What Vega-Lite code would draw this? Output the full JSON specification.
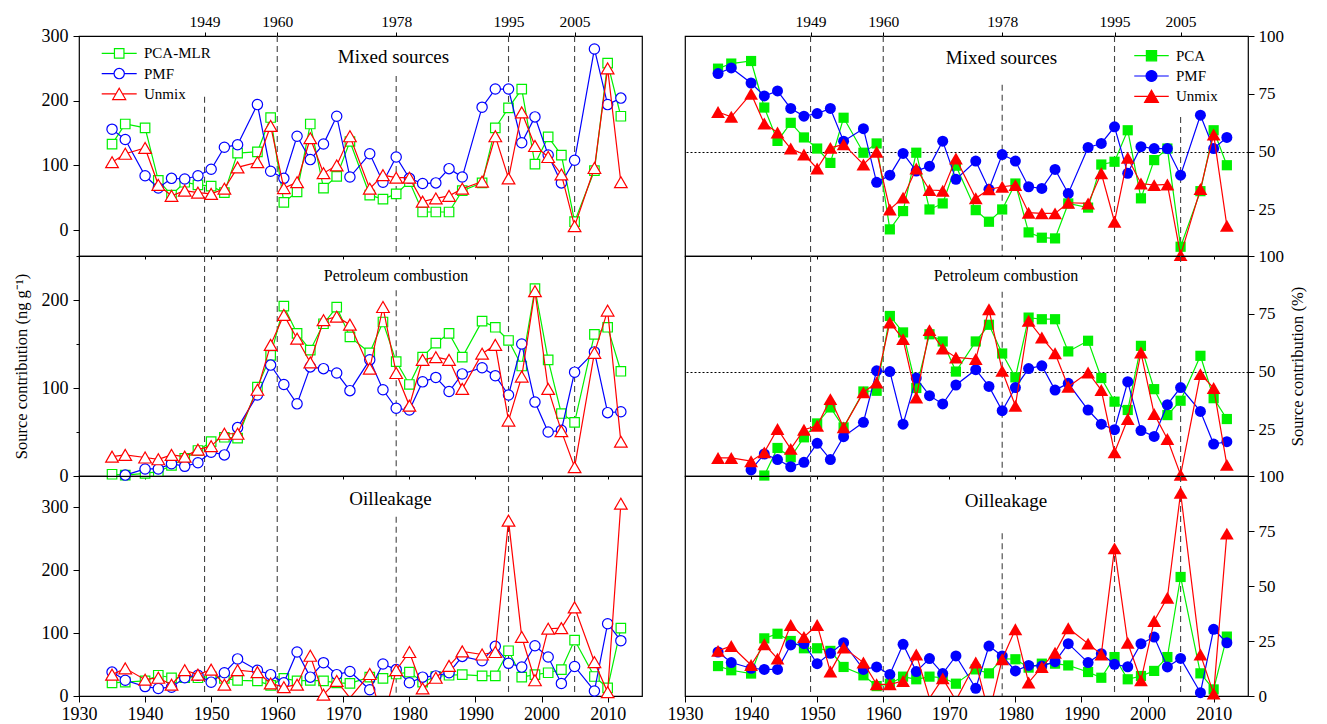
{
  "$schema": "https://vega.github.io/schema/vega-lite/v6.json",
  "background": "white",
  "padding": {"left": 12, "top": 13, "right": 6, "bottom": 4},
  "config": {
    "view": {"stroke": "#000", "strokeWidth": 1.2},
    "font": "Liberation Serif",
    "axis": {"grid": false, "domain": false, "tickColor": "#000", "tickWidth": 1, "labelFont": "Liberation Serif", "labelColor": "#000", "labelFontSize": 18, "labelFlush": false, "labelOverlap": false, "titleFont": "Liberation Serif", "titleFontWeight": "normal", "titleColor": "#000", "titleFontSize": 16.5},
    "legend": {"labelFont": "Liberation Serif", "labelFontSize": 15, "labelColor": "#000", "padding": 0, "rowPadding": 3.3, "symbolStrokeWidth": 1.2, "symbolSize": 100}
  },
  "datasets": {
    "events": [{"year": 1949}, {"year": 1960}, {"year": 1978}, {"year": 1995}, {"year": 2005}],
    "mixed_ng": [
      {"year":1935,"method":"PCA-MLR","value":133},{"year":1937,"method":"PCA-MLR","value":164},{"year":1940,"method":"PCA-MLR","value":158},{"year":1942,"method":"PCA-MLR","value":77},{"year":1944,"method":"PCA-MLR","value":54},{"year":1946,"method":"PCA-MLR","value":74},{"year":1948,"method":"PCA-MLR","value":70},{"year":1950,"method":"PCA-MLR","value":68},{"year":1952,"method":"PCA-MLR","value":58},{"year":1954,"method":"PCA-MLR","value":119},{"year":1957,"method":"PCA-MLR","value":121},{"year":1959,"method":"PCA-MLR","value":174},{"year":1961,"method":"PCA-MLR","value":43},{"year":1963,"method":"PCA-MLR","value":59},{"year":1965,"method":"PCA-MLR","value":164},{"year":1967,"method":"PCA-MLR","value":65},{"year":1969,"method":"PCA-MLR","value":83},{"year":1971,"method":"PCA-MLR","value":137},{"year":1974,"method":"PCA-MLR","value":54},{"year":1976,"method":"PCA-MLR","value":48},{"year":1978,"method":"PCA-MLR","value":56},{"year":1980,"method":"PCA-MLR","value":75},{"year":1982,"method":"PCA-MLR","value":28},{"year":1984,"method":"PCA-MLR","value":28},{"year":1986,"method":"PCA-MLR","value":28},{"year":1988,"method":"PCA-MLR","value":61},{"year":1991,"method":"PCA-MLR","value":73},{"year":1993,"method":"PCA-MLR","value":158},{"year":1995,"method":"PCA-MLR","value":189},{"year":1997,"method":"PCA-MLR","value":218},{"year":1999,"method":"PCA-MLR","value":102},{"year":2001,"method":"PCA-MLR","value":144},{"year":2003,"method":"PCA-MLR","value":116},{"year":2005,"method":"PCA-MLR","value":13},{"year":2008,"method":"PCA-MLR","value":92},{"year":2010,"method":"PCA-MLR","value":258},{"year":2012,"method":"PCA-MLR","value":176},
      {"year":1935,"method":"PMF","value":156},{"year":1937,"method":"PMF","value":140},{"year":1940,"method":"PMF","value":84},{"year":1942,"method":"PMF","value":65},{"year":1944,"method":"PMF","value":80},{"year":1946,"method":"PMF","value":79},{"year":1948,"method":"PMF","value":84},{"year":1950,"method":"PMF","value":94},{"year":1952,"method":"PMF","value":128},{"year":1954,"method":"PMF","value":132},{"year":1957,"method":"PMF","value":194},{"year":1959,"method":"PMF","value":91},{"year":1961,"method":"PMF","value":80},{"year":1963,"method":"PMF","value":145},{"year":1965,"method":"PMF","value":109},{"year":1967,"method":"PMF","value":133},{"year":1969,"method":"PMF","value":176},{"year":1971,"method":"PMF","value":82},{"year":1974,"method":"PMF","value":118},{"year":1976,"method":"PMF","value":74},{"year":1978,"method":"PMF","value":113},{"year":1980,"method":"PMF","value":80},{"year":1982,"method":"PMF","value":72},{"year":1984,"method":"PMF","value":73},{"year":1986,"method":"PMF","value":95},{"year":1988,"method":"PMF","value":82},{"year":1991,"method":"PMF","value":190},{"year":1993,"method":"PMF","value":218},{"year":1995,"method":"PMF","value":218},{"year":1997,"method":"PMF","value":135},{"year":1999,"method":"PMF","value":175},{"year":2001,"method":"PMF","value":116},{"year":2003,"method":"PMF","value":73},{"year":2005,"method":"PMF","value":108},{"year":2008,"method":"PMF","value":280},{"year":2010,"method":"PMF","value":194},{"year":2012,"method":"PMF","value":204},
      {"year":1935,"method":"Unmix","value":105},{"year":1937,"method":"Unmix","value":118},{"year":1940,"method":"Unmix","value":127},{"year":1942,"method":"Unmix","value":70},{"year":1944,"method":"Unmix","value":53},{"year":1946,"method":"Unmix","value":61},{"year":1948,"method":"Unmix","value":58},{"year":1950,"method":"Unmix","value":56},{"year":1952,"method":"Unmix","value":64},{"year":1954,"method":"Unmix","value":97},{"year":1957,"method":"Unmix","value":105},{"year":1959,"method":"Unmix","value":161},{"year":1961,"method":"Unmix","value":65},{"year":1963,"method":"Unmix","value":74},{"year":1965,"method":"Unmix","value":142},{"year":1967,"method":"Unmix","value":88},{"year":1969,"method":"Unmix","value":100},{"year":1971,"method":"Unmix","value":145},{"year":1974,"method":"Unmix","value":64},{"year":1976,"method":"Unmix","value":85},{"year":1978,"method":"Unmix","value":81},{"year":1980,"method":"Unmix","value":81},{"year":1982,"method":"Unmix","value":44},{"year":1984,"method":"Unmix","value":49},{"year":1986,"method":"Unmix","value":53},{"year":1988,"method":"Unmix","value":64},{"year":1991,"method":"Unmix","value":75},{"year":1993,"method":"Unmix","value":145},{"year":1995,"method":"Unmix","value":80},{"year":1997,"method":"Unmix","value":182},{"year":1999,"method":"Unmix","value":130},{"year":2001,"method":"Unmix","value":113},{"year":2003,"method":"Unmix","value":86},{"year":2005,"method":"Unmix","value":6},{"year":2008,"method":"Unmix","value":96},{"year":2010,"method":"Unmix","value":250},{"year":2012,"method":"Unmix","value":74}
    ],
    "petroleum_ng": [
      {"year":1935,"method":"PCA-MLR","value":2},{"year":1937,"method":"PCA-MLR","value":1},{"year":1940,"method":"PCA-MLR","value":3},{"year":1942,"method":"PCA-MLR","value":5},{"year":1944,"method":"PCA-MLR","value":12},{"year":1946,"method":"PCA-MLR","value":20},{"year":1948,"method":"PCA-MLR","value":29},{"year":1950,"method":"PCA-MLR","value":39},{"year":1952,"method":"PCA-MLR","value":44},{"year":1954,"method":"PCA-MLR","value":43},{"year":1957,"method":"PCA-MLR","value":101},{"year":1959,"method":"PCA-MLR","value":137},{"year":1961,"method":"PCA-MLR","value":193},{"year":1963,"method":"PCA-MLR","value":162},{"year":1965,"method":"PCA-MLR","value":143},{"year":1967,"method":"PCA-MLR","value":173},{"year":1969,"method":"PCA-MLR","value":192},{"year":1971,"method":"PCA-MLR","value":158},{"year":1974,"method":"PCA-MLR","value":140},{"year":1976,"method":"PCA-MLR","value":175},{"year":1978,"method":"PCA-MLR","value":130},{"year":1980,"method":"PCA-MLR","value":104},{"year":1982,"method":"PCA-MLR","value":135},{"year":1984,"method":"PCA-MLR","value":151},{"year":1986,"method":"PCA-MLR","value":162},{"year":1988,"method":"PCA-MLR","value":135},{"year":1991,"method":"PCA-MLR","value":176},{"year":1993,"method":"PCA-MLR","value":169},{"year":1995,"method":"PCA-MLR","value":154},{"year":1997,"method":"PCA-MLR","value":125},{"year":1999,"method":"PCA-MLR","value":213},{"year":2001,"method":"PCA-MLR","value":132},{"year":2003,"method":"PCA-MLR","value":71},{"year":2005,"method":"PCA-MLR","value":61},{"year":2008,"method":"PCA-MLR","value":161},{"year":2010,"method":"PCA-MLR","value":169},{"year":2012,"method":"PCA-MLR","value":119},
      {"year":1937,"method":"PMF","value":1},{"year":1940,"method":"PMF","value":8},{"year":1942,"method":"PMF","value":8},{"year":1944,"method":"PMF","value":14},{"year":1946,"method":"PMF","value":11},{"year":1948,"method":"PMF","value":15},{"year":1950,"method":"PMF","value":27},{"year":1952,"method":"PMF","value":24},{"year":1954,"method":"PMF","value":55},{"year":1957,"method":"PMF","value":92},{"year":1959,"method":"PMF","value":126},{"year":1961,"method":"PMF","value":104},{"year":1963,"method":"PMF","value":82},{"year":1965,"method":"PMF","value":124},{"year":1967,"method":"PMF","value":122},{"year":1969,"method":"PMF","value":117},{"year":1971,"method":"PMF","value":97},{"year":1974,"method":"PMF","value":132},{"year":1976,"method":"PMF","value":98},{"year":1978,"method":"PMF","value":77},{"year":1980,"method":"PMF","value":75},{"year":1982,"method":"PMF","value":107},{"year":1984,"method":"PMF","value":112},{"year":1986,"method":"PMF","value":96},{"year":1988,"method":"PMF","value":116},{"year":1991,"method":"PMF","value":123},{"year":1993,"method":"PMF","value":114},{"year":1995,"method":"PMF","value":92},{"year":1997,"method":"PMF","value":150},{"year":1999,"method":"PMF","value":84},{"year":2001,"method":"PMF","value":50},{"year":2003,"method":"PMF","value":52},{"year":2005,"method":"PMF","value":118},{"year":2008,"method":"PMF","value":141},{"year":2010,"method":"PMF","value":72},{"year":2012,"method":"PMF","value":73},
      {"year":1935,"method":"Unmix","value":22},{"year":1937,"method":"Unmix","value":24},{"year":1940,"method":"Unmix","value":21},{"year":1942,"method":"Unmix","value":19},{"year":1944,"method":"Unmix","value":24},{"year":1946,"method":"Unmix","value":22},{"year":1948,"method":"Unmix","value":30},{"year":1950,"method":"Unmix","value":34},{"year":1952,"method":"Unmix","value":48},{"year":1954,"method":"Unmix","value":48},{"year":1957,"method":"Unmix","value":98},{"year":1959,"method":"Unmix","value":149},{"year":1961,"method":"Unmix","value":183},{"year":1963,"method":"Unmix","value":156},{"year":1965,"method":"Unmix","value":129},{"year":1967,"method":"Unmix","value":177},{"year":1969,"method":"Unmix","value":181},{"year":1971,"method":"Unmix","value":172},{"year":1974,"method":"Unmix","value":122},{"year":1976,"method":"Unmix","value":192},{"year":1978,"method":"Unmix","value":117},{"year":1980,"method":"Unmix","value":80},{"year":1982,"method":"Unmix","value":132},{"year":1984,"method":"Unmix","value":135},{"year":1986,"method":"Unmix","value":132},{"year":1988,"method":"Unmix","value":99},{"year":1991,"method":"Unmix","value":139},{"year":1993,"method":"Unmix","value":149},{"year":1995,"method":"Unmix","value":63},{"year":1997,"method":"Unmix","value":113},{"year":1999,"method":"Unmix","value":210},{"year":2001,"method":"Unmix","value":99},{"year":2003,"method":"Unmix","value":51},{"year":2005,"method":"Unmix","value":10},{"year":2008,"method":"Unmix","value":140},{"year":2010,"method":"Unmix","value":188},{"year":2012,"method":"Unmix","value":39}
    ],
    "oil_ng": [
      {"year":1935,"method":"PCA-MLR","value":21},{"year":1937,"method":"PCA-MLR","value":22},{"year":1940,"method":"PCA-MLR","value":24},{"year":1942,"method":"PCA-MLR","value":33},{"year":1944,"method":"PCA-MLR","value":29},{"year":1946,"method":"PCA-MLR","value":29},{"year":1948,"method":"PCA-MLR","value":29},{"year":1950,"method":"PCA-MLR","value":31},{"year":1952,"method":"PCA-MLR","value":28},{"year":1954,"method":"PCA-MLR","value":25},{"year":1957,"method":"PCA-MLR","value":24},{"year":1959,"method":"PCA-MLR","value":17},{"year":1961,"method":"PCA-MLR","value":28},{"year":1963,"method":"PCA-MLR","value":24},{"year":1965,"method":"PCA-MLR","value":25},{"year":1967,"method":"PCA-MLR","value":24},{"year":1969,"method":"PCA-MLR","value":21},{"year":1971,"method":"PCA-MLR","value":20},{"year":1974,"method":"PCA-MLR","value":30},{"year":1976,"method":"PCA-MLR","value":28},{"year":1978,"method":"PCA-MLR","value":35},{"year":1980,"method":"PCA-MLR","value":38},{"year":1982,"method":"PCA-MLR","value":22},{"year":1984,"method":"PCA-MLR","value":31},{"year":1986,"method":"PCA-MLR","value":33},{"year":1988,"method":"PCA-MLR","value":34},{"year":1991,"method":"PCA-MLR","value":32},{"year":1993,"method":"PCA-MLR","value":32},{"year":1995,"method":"PCA-MLR","value":72},{"year":1997,"method":"PCA-MLR","value":30},{"year":1999,"method":"PCA-MLR","value":34},{"year":2001,"method":"PCA-MLR","value":37},{"year":2003,"method":"PCA-MLR","value":42},{"year":2005,"method":"PCA-MLR","value":89},{"year":2008,"method":"PCA-MLR","value":31},{"year":2010,"method":"PCA-MLR","value":13},{"year":2012,"method":"PCA-MLR","value":108},
      {"year":1935,"method":"PMF","value":38},{"year":1937,"method":"PMF","value":25},{"year":1940,"method":"PMF","value":15},{"year":1942,"method":"PMF","value":12},{"year":1944,"method":"PMF","value":14},{"year":1946,"method":"PMF","value":29},{"year":1948,"method":"PMF","value":33},{"year":1950,"method":"PMF","value":22},{"year":1952,"method":"PMF","value":37},{"year":1954,"method":"PMF","value":59},{"year":1957,"method":"PMF","value":41},{"year":1959,"method":"PMF","value":34},{"year":1961,"method":"PMF","value":21},{"year":1963,"method":"PMF","value":70},{"year":1965,"method":"PMF","value":30},{"year":1967,"method":"PMF","value":53},{"year":1969,"method":"PMF","value":34},{"year":1971,"method":"PMF","value":39},{"year":1974,"method":"PMF","value":10},{"year":1976,"method":"PMF","value":51},{"year":1978,"method":"PMF","value":42},{"year":1980,"method":"PMF","value":21},{"year":1982,"method":"PMF","value":30},{"year":1984,"method":"PMF","value":32},{"year":1986,"method":"PMF","value":37},{"year":1988,"method":"PMF","value":63},{"year":1991,"method":"PMF","value":56},{"year":1993,"method":"PMF","value":79},{"year":1995,"method":"PMF","value":52},{"year":1997,"method":"PMF","value":46},{"year":1999,"method":"PMF","value":80},{"year":2001,"method":"PMF","value":62},{"year":2003,"method":"PMF","value":20},{"year":2005,"method":"PMF","value":47},{"year":2008,"method":"PMF","value":8},{"year":2010,"method":"PMF","value":115},{"year":2012,"method":"PMF","value":88},
      {"year":1935,"method":"Unmix","value":34},{"year":1937,"method":"Unmix","value":44},{"year":1940,"method":"Unmix","value":26},{"year":1942,"method":"Unmix","value":29},{"year":1944,"method":"Unmix","value":18},{"year":1946,"method":"Unmix","value":41},{"year":1948,"method":"Unmix","value":34},{"year":1950,"method":"Unmix","value":42},{"year":1952,"method":"Unmix","value":18},{"year":1954,"method":"Unmix","value":41},{"year":1957,"method":"Unmix","value":38},{"year":1959,"method":"Unmix","value":20},{"year":1961,"method":"Unmix","value":14},{"year":1963,"method":"Unmix","value":18},{"year":1965,"method":"Unmix","value":64},{"year":1967,"method":"Unmix","value":2},{"year":1969,"method":"Unmix","value":24},{"year":1971,"method":"Unmix","value":-3},{"year":1974,"method":"Unmix","value":35},{"year":1976,"method":"Unmix","value":-40},{"year":1978,"method":"Unmix","value":41},{"year":1980,"method":"Unmix","value":70},{"year":1982,"method":"Unmix","value":12},{"year":1984,"method":"Unmix","value":29},{"year":1986,"method":"Unmix","value":48},{"year":1988,"method":"Unmix","value":71},{"year":1991,"method":"Unmix","value":66},{"year":1993,"method":"Unmix","value":70},{"year":1995,"method":"Unmix","value":279},{"year":1997,"method":"Unmix","value":94},{"year":1999,"method":"Unmix","value":25},{"year":2001,"method":"Unmix","value":107},{"year":2003,"method":"Unmix","value":108},{"year":2005,"method":"Unmix","value":141},{"year":2008,"method":"Unmix","value":54},{"year":2010,"method":"Unmix","value":6},{"year":2012,"method":"Unmix","value":306}
    ],
    "mixed_pct": [
      {"year":1935,"method":"PCA","value":85.9},{"year":1937,"method":"PCA","value":88.1},{"year":1940,"method":"PCA","value":89.2},{"year":1942,"method":"PCA","value":69.1},{"year":1944,"method":"PCA","value":54.7},{"year":1946,"method":"PCA","value":62.5},{"year":1948,"method":"PCA","value":56.2},{"year":1950,"method":"PCA","value":51.4},{"year":1952,"method":"PCA","value":45.2},{"year":1954,"method":"PCA","value":64.7},{"year":1957,"method":"PCA","value":49.6},{"year":1959,"method":"PCA","value":53.6},{"year":1961,"method":"PCA","value":16.5},{"year":1963,"method":"PCA","value":24.4},{"year":1965,"method":"PCA","value":49.6},{"year":1967,"method":"PCA","value":25.1},{"year":1969,"method":"PCA","value":27.7},{"year":1971,"method":"PCA","value":44},{"year":1974,"method":"PCA","value":24.8},{"year":1976,"method":"PCA","value":19.8},{"year":1978,"method":"PCA","value":25.1},{"year":1980,"method":"PCA","value":36.3},{"year":1982,"method":"PCA","value":15.2},{"year":1984,"method":"PCA","value":12.9},{"year":1986,"method":"PCA","value":12.6},{"year":1988,"method":"PCA","value":27.7},{"year":1991,"method":"PCA","value":25.9},{"year":1993,"method":"PCA","value":44.5},{"year":1995,"method":"PCA","value":45.7},{"year":1997,"method":"PCA","value":59.3},{"year":1999,"method":"PCA","value":29.9},{"year":2001,"method":"PCA","value":46.4},{"year":2003,"method":"PCA","value":51.4},{"year":2005,"method":"PCA","value":9},{"year":2008,"method":"PCA","value":33},{"year":2010,"method":"PCA","value":59.3},{"year":2012,"method":"PCA","value":44.2},
      {"year":1935,"method":"PMF","value":83.8},{"year":1937,"method":"PMF","value":86.2},{"year":1940,"method":"PMF","value":79.7},{"year":1942,"method":"PMF","value":74.1},{"year":1944,"method":"PMF","value":76.3},{"year":1946,"method":"PMF","value":68.7},{"year":1948,"method":"PMF","value":65.4},{"year":1950,"method":"PMF","value":66.5},{"year":1952,"method":"PMF","value":68.7},{"year":1954,"method":"PMF","value":54.6},{"year":1957,"method":"PMF","value":60},{"year":1959,"method":"PMF","value":36.8},{"year":1961,"method":"PMF","value":39.9},{"year":1963,"method":"PMF","value":49.3},{"year":1965,"method":"PMF","value":41.7},{"year":1967,"method":"PMF","value":43.8},{"year":1969,"method":"PMF","value":54.6},{"year":1971,"method":"PMF","value":38.1},{"year":1974,"method":"PMF","value":46},{"year":1976,"method":"PMF","value":33.8},{"year":1978,"method":"PMF","value":48.8},{"year":1980,"method":"PMF","value":46},{"year":1982,"method":"PMF","value":34.9},{"year":1984,"method":"PMF","value":34.2},{"year":1986,"method":"PMF","value":42.4},{"year":1988,"method":"PMF","value":32},{"year":1991,"method":"PMF","value":51.9},{"year":1993,"method":"PMF","value":53.6},{"year":1995,"method":"PMF","value":60.8},{"year":1997,"method":"PMF","value":40.7},{"year":1999,"method":"PMF","value":52.2},{"year":2001,"method":"PMF","value":51.4},{"year":2003,"method":"PMF","value":51.4},{"year":2005,"method":"PMF","value":39.9},{"year":2008,"method":"PMF","value":65.8},{"year":2010,"method":"PMF","value":51.4},{"year":2012,"method":"PMF","value":56.2},
      {"year":1935,"method":"Unmix","value":67.2},{"year":1937,"method":"Unmix","value":65.1},{"year":1940,"method":"Unmix","value":75.1},{"year":1942,"method":"Unmix","value":62.2},{"year":1944,"method":"Unmix","value":58.3},{"year":1946,"method":"Unmix","value":51.4},{"year":1948,"method":"Unmix","value":48.8},{"year":1950,"method":"Unmix","value":42.8},{"year":1952,"method":"Unmix","value":51.7},{"year":1954,"method":"Unmix","value":53.2},{"year":1957,"method":"Unmix","value":44.5},{"year":1959,"method":"Unmix","value":50},{"year":1961,"method":"Unmix","value":25.1},{"year":1963,"method":"Unmix","value":30.2},{"year":1965,"method":"Unmix","value":42.8},{"year":1967,"method":"Unmix","value":33.5},{"year":1969,"method":"Unmix","value":33.2},{"year":1971,"method":"Unmix","value":47.1},{"year":1974,"method":"Unmix","value":29.9},{"year":1976,"method":"Unmix","value":33.8},{"year":1978,"method":"Unmix","value":34.9},{"year":1980,"method":"Unmix","value":35.6},{"year":1982,"method":"Unmix","value":23.7},{"year":1984,"method":"Unmix","value":23.4},{"year":1986,"method":"Unmix","value":23.4},{"year":1988,"method":"Unmix","value":28},{"year":1991,"method":"Unmix","value":27.7},{"year":1993,"method":"Unmix","value":40.7},{"year":1995,"method":"Unmix","value":19.8},{"year":1997,"method":"Unmix","value":47.4},{"year":1999,"method":"Unmix","value":36.3},{"year":2001,"method":"Unmix","value":35.6},{"year":2003,"method":"Unmix","value":35.9},{"year":2005,"method":"Unmix","value":5.4},{"year":2008,"method":"Unmix","value":33.9},{"year":2010,"method":"Unmix","value":57.5},{"year":2012,"method":"Unmix","value":18.1}
    ],
    "petroleum_pct": [
      {"year":1942,"method":"PCA","value":5.2},{"year":1944,"method":"PCA","value":17.1},{"year":1946,"method":"PCA","value":13.1},{"year":1948,"method":"PCA","value":21.7},{"year":1950,"method":"PCA","value":27.7},{"year":1952,"method":"PCA","value":34.6},{"year":1954,"method":"PCA","value":26},{"year":1957,"method":"PCA","value":41.5},{"year":1959,"method":"PCA","value":41.8},{"year":1961,"method":"PCA","value":74.1},{"year":1963,"method":"PCA","value":67},{"year":1965,"method":"PCA","value":43},{"year":1967,"method":"PCA","value":66.2},{"year":1969,"method":"PCA","value":63.1},{"year":1971,"method":"PCA","value":50.1},{"year":1974,"method":"PCA","value":63.1},{"year":1976,"method":"PCA","value":70.3},{"year":1978,"method":"PCA","value":57.9},{"year":1980,"method":"PCA","value":47.6},{"year":1982,"method":"PCA","value":73.4},{"year":1984,"method":"PCA","value":72.7},{"year":1986,"method":"PCA","value":72.7},{"year":1988,"method":"PCA","value":58.8},{"year":1991,"method":"PCA","value":63.4},{"year":1993,"method":"PCA","value":47.3},{"year":1995,"method":"PCA","value":37.1},{"year":1997,"method":"PCA","value":33.5},{"year":1999,"method":"PCA","value":61.2},{"year":2001,"method":"PCA","value":42.5},{"year":2003,"method":"PCA","value":31.3},{"year":2005,"method":"PCA","value":37.5},{"year":2008,"method":"PCA","value":56.9},{"year":2010,"method":"PCA","value":38.6},{"year":2012,"method":"PCA","value":29.6},
      {"year":1940,"method":"PMF","value":7.6},{"year":1942,"method":"PMF","value":14.5},{"year":1944,"method":"PMF","value":12.1},{"year":1946,"method":"PMF","value":9},{"year":1948,"method":"PMF","value":10.9},{"year":1950,"method":"PMF","value":19.1},{"year":1952,"method":"PMF","value":12.1},{"year":1954,"method":"PMF","value":22},{"year":1957,"method":"PMF","value":28.2},{"year":1959,"method":"PMF","value":50.4},{"year":1961,"method":"PMF","value":50.1},{"year":1963,"method":"PMF","value":27.4},{"year":1965,"method":"PMF","value":47.3},{"year":1967,"method":"PMF","value":39.7},{"year":1969,"method":"PMF","value":36.1},{"year":1971,"method":"PMF","value":44.3},{"year":1974,"method":"PMF","value":50.9},{"year":1976,"method":"PMF","value":43.7},{"year":1978,"method":"PMF","value":33.2},{"year":1980,"method":"PMF","value":43.2},{"year":1982,"method":"PMF","value":51.4},{"year":1984,"method":"PMF","value":52.6},{"year":1986,"method":"PMF","value":42.1},{"year":1988,"method":"PMF","value":45},{"year":1991,"method":"PMF","value":33.5},{"year":1993,"method":"PMF","value":27.4},{"year":1995,"method":"PMF","value":25},{"year":1997,"method":"PMF","value":45.7},{"year":1999,"method":"PMF","value":24.6},{"year":2001,"method":"PMF","value":22.1},{"year":2003,"method":"PMF","value":35.8},{"year":2005,"method":"PMF","value":43.2},{"year":2008,"method":"PMF","value":32.9},{"year":2010,"method":"PMF","value":18.8},{"year":2012,"method":"PMF","value":19.8},
      {"year":1935,"method":"Unmix","value":12.8},{"year":1937,"method":"Unmix","value":12.8},{"year":1940,"method":"Unmix","value":11.4},{"year":1942,"method":"Unmix","value":15.2},{"year":1944,"method":"Unmix","value":25.3},{"year":1946,"method":"Unmix","value":16.7},{"year":1948,"method":"Unmix","value":25},{"year":1950,"method":"Unmix","value":26.7},{"year":1952,"method":"Unmix","value":38.2},{"year":1954,"method":"Unmix","value":26},{"year":1957,"method":"Unmix","value":41.1},{"year":1959,"method":"Unmix","value":45.4},{"year":1961,"method":"Unmix","value":71.3},{"year":1963,"method":"Unmix","value":64.1},{"year":1965,"method":"Unmix","value":38.9},{"year":1967,"method":"Unmix","value":68},{"year":1969,"method":"Unmix","value":60},{"year":1971,"method":"Unmix","value":56.2},{"year":1974,"method":"Unmix","value":55.5},{"year":1976,"method":"Unmix","value":77},{"year":1978,"method":"Unmix","value":50.4},{"year":1980,"method":"Unmix","value":35.3},{"year":1982,"method":"Unmix","value":72},{"year":1984,"method":"Unmix","value":64.8},{"year":1986,"method":"Unmix","value":58},{"year":1988,"method":"Unmix","value":43.5},{"year":1991,"method":"Unmix","value":49.7},{"year":1993,"method":"Unmix","value":42.1},{"year":1995,"method":"Unmix","value":15.2},{"year":1997,"method":"Unmix","value":29.6},{"year":1999,"method":"Unmix","value":58.3},{"year":2001,"method":"Unmix","value":31.8},{"year":2003,"method":"Unmix","value":21},{"year":2005,"method":"Unmix","value":5.5},{"year":2008,"method":"Unmix","value":49},{"year":2010,"method":"Unmix","value":43},{"year":2012,"method":"Unmix","value":9.8}
    ],
    "oil_pct": [
      {"year":1935,"method":"PCA","value":13.6},{"year":1937,"method":"PCA","value":11.7},{"year":1940,"method":"PCA","value":10.2},{"year":1942,"method":"PCA","value":26.2},{"year":1944,"method":"PCA","value":28.3},{"year":1946,"method":"PCA","value":25},{"year":1948,"method":"PCA","value":21.7},{"year":1950,"method":"PCA","value":21.7},{"year":1952,"method":"PCA","value":20.5},{"year":1954,"method":"PCA","value":13.2},{"year":1957,"method":"PCA","value":9.4},{"year":1959,"method":"PCA","value":4.5},{"year":1961,"method":"PCA","value":5.6},{"year":1963,"method":"PCA","value":8.8},{"year":1965,"method":"PCA","value":7.6},{"year":1967,"method":"PCA","value":8.8},{"year":1969,"method":"PCA","value":8.3},{"year":1971,"method":"PCA","value":5.6},{"year":1974,"method":"PCA","value":12.1},{"year":1976,"method":"PCA","value":10.3},{"year":1978,"method":"PCA","value":17},{"year":1980,"method":"PCA","value":16.7},{"year":1982,"method":"PCA","value":12.9},{"year":1984,"method":"PCA","value":14.7},{"year":1986,"method":"PCA","value":14.7},{"year":1988,"method":"PCA","value":13.9},{"year":1991,"method":"PCA","value":10.9},{"year":1993,"method":"PCA","value":8.3},{"year":1995,"method":"PCA","value":17.7},{"year":1997,"method":"PCA","value":7.6},{"year":1999,"method":"PCA","value":9.1},{"year":2001,"method":"PCA","value":11.4},{"year":2003,"method":"PCA","value":17.7},{"year":2005,"method":"PCA","value":54.1},{"year":2008,"method":"PCA","value":10.3},{"year":2010,"method":"PCA","value":3},{"year":2012,"method":"PCA","value":27},
      {"year":1935,"method":"PMF","value":20},{"year":1937,"method":"PMF","value":15.2},{"year":1940,"method":"PMF","value":12.6},{"year":1942,"method":"PMF","value":12.1},{"year":1944,"method":"PMF","value":12.1},{"year":1946,"method":"PMF","value":23.2},{"year":1948,"method":"PMF","value":23.8},{"year":1950,"method":"PMF","value":14.7},{"year":1952,"method":"PMF","value":19.4},{"year":1954,"method":"PMF","value":24.2},{"year":1957,"method":"PMF","value":12.1},{"year":1959,"method":"PMF","value":13.2},{"year":1961,"method":"PMF","value":9.8},{"year":1963,"method":"PMF","value":23.5},{"year":1965,"method":"PMF","value":11.1},{"year":1967,"method":"PMF","value":17},{"year":1969,"method":"PMF","value":10.2},{"year":1971,"method":"PMF","value":18.2},{"year":1974,"method":"PMF","value":3.5},{"year":1976,"method":"PMF","value":22.7},{"year":1978,"method":"PMF","value":18.2},{"year":1980,"method":"PMF","value":11.4},{"year":1982,"method":"PMF","value":13.9},{"year":1984,"method":"PMF","value":13.6},{"year":1986,"method":"PMF","value":15.6},{"year":1988,"method":"PMF","value":23.8},{"year":1991,"method":"PMF","value":15.2},{"year":1993,"method":"PMF","value":19.2},{"year":1995,"method":"PMF","value":14.4},{"year":1997,"method":"PMF","value":13.3},{"year":1999,"method":"PMF","value":23.8},{"year":2001,"method":"PMF","value":26.8},{"year":2003,"method":"PMF","value":13.2},{"year":2005,"method":"PMF","value":17.1},{"year":2008,"method":"PMF","value":1.5},{"year":2010,"method":"PMF","value":30.3},{"year":2012,"method":"PMF","value":24.2},
      {"year":1935,"method":"Unmix","value":20.5},{"year":1937,"method":"Unmix","value":22.7},{"year":1940,"method":"Unmix","value":14.1},{"year":1942,"method":"Unmix","value":23.5},{"year":1944,"method":"Unmix","value":17},{"year":1946,"method":"Unmix","value":32.3},{"year":1948,"method":"Unmix","value":26.8},{"year":1950,"method":"Unmix","value":32.3},{"year":1952,"method":"Unmix","value":11.1},{"year":1954,"method":"Unmix","value":22},{"year":1957,"method":"Unmix","value":15.2},{"year":1959,"method":"Unmix","value":5.3},{"year":1961,"method":"Unmix","value":5.3},{"year":1963,"method":"Unmix","value":6.8},{"year":1965,"method":"Unmix","value":18.9},{"year":1967,"method":"Unmix","value":-1},{"year":1969,"method":"Unmix","value":8},{"year":1971,"method":"Unmix","value":-2},{"year":1974,"method":"Unmix","value":15.2},{"year":1976,"method":"Unmix","value":-8},{"year":1978,"method":"Unmix","value":16.7},{"year":1980,"method":"Unmix","value":30.3},{"year":1982,"method":"Unmix","value":6.1},{"year":1984,"method":"Unmix","value":13.2},{"year":1986,"method":"Unmix","value":19.7},{"year":1988,"method":"Unmix","value":30.8},{"year":1991,"method":"Unmix","value":23.8},{"year":1993,"method":"Unmix","value":18.9},{"year":1995,"method":"Unmix","value":67.1},{"year":1997,"method":"Unmix","value":24.2},{"year":1999,"method":"Unmix","value":7.1},{"year":2001,"method":"Unmix","value":34.1},{"year":2003,"method":"Unmix","value":44.7},{"year":2005,"method":"Unmix","value":92.4},{"year":2008,"method":"Unmix","value":18.9},{"year":2010,"method":"Unmix","value":1.1},{"year":2012,"method":"Unmix","value":73.8}
    ]
  },
  "columns": 2,
  "spacing": {"row": 0, "column": 43},
  "bounds": "flush",
  "resolve": {
    "scale": {"x": "independent", "y": "independent", "stroke": "independent", "fill": "independent", "shape": "independent"},
    "legend": {"stroke": "independent", "fill": "independent", "shape": "independent"}
  },
  "concat": [
    {
      "width": 563, "height": 220,
      "data": {"name": "mixed_ng"},
      "title": {"text": "Mixed sources", "font": "Liberation Serif", "fontSize": 19, "fontWeight": "normal", "color": "#000", "anchor": "middle", "frame": "group", "baseline": "middle", "offset": -62, "dx": 33},
      "resolve": {"axis": {"x": "independent"}},
      "layer": [
        {"data": {"name": "events"},
         "transform": [{"filter": "datum.year === 1960 || datum.year === 1995 || datum.year === 2005"}],
         "mark": {"type": "rule", "color": "#444", "strokeDash": [6, 4], "strokeWidth": 1.1},
         "encoding": {"x": {"field": "year", "type": "quantitative", "axis": {"orient": "top", "values": [1949, 1960, 1978, 1995, 2005], "format": "d", "tickSize": 4, "labelPadding": 3, "labelFontSize": 15.5, "title": null}}}},
        {
          "layer": [
            {"data": {"name": "events"}, "transform": [{"filter": "datum.year === 1949"}],
             "mark": {"type": "rule", "color": "#444", "strokeDash": [6, 4], "strokeWidth": 1.1},
             "encoding": {"x": {"field": "year", "type": "quantitative"}, "y": {"datum": 206, "type": "quantitative"}, "y2": {"datum": -40}}},
            {"data": {"name": "events"}, "transform": [{"filter": "datum.year === 1978"}],
             "mark": {"type": "rule", "color": "#444", "strokeDash": [6, 4], "strokeWidth": 1.1},
             "encoding": {"x": {"field": "year", "type": "quantitative"}, "y": {"datum": 238, "type": "quantitative"}, "y2": {"datum": -40}}},
            {"transform": [{"filter": "datum.method === 'PCA-MLR'"}],
             "mark": {"type": "line", "color": "#00f000", "strokeWidth": 1.2, "clip": true},
             "encoding": {
               "x": {"field": "year", "type": "quantitative", "scale": {"domain": [1930, 2015.2], "nice": false, "zero": false}, "axis": {"orient": "bottom", "values": [1930,1935,1940,1945,1950,1955,1960,1965,1970,1975,1980,1985,1990,1995,2000,2005,2010,2015], "labels": false, "tickSize": 3, "title": null}},
               "y": {"field": "value", "type": "quantitative", "scale": {"domain": [-40, 300], "nice": false, "zero": false}, "axis": {"orient": "left", "values": [0, 50, 100, 150, 200, 250, 300], "labelExpr": "datum.value % 100 === 0 ? datum.label : ''", "tickSize": {"condition": {"test": "datum.value % 100 === 0", "value": 6}, "value": 3}, "labelPadding": 5, "title": null}}
             }},
            {"transform": [{"filter": "datum.method === 'PCA-MLR'"}],
             "mark": {"type": "point", "shape": "square", "size": 90, "filled": true, "fill": "#fff", "stroke": "#00f000", "strokeWidth": 1.2, "opacity": 1},
             "encoding": {"x": {"field": "year", "type": "quantitative"}, "y": {"field": "value", "type": "quantitative"}}},
            {"transform": [{"filter": "datum.method === 'PMF'"}],
             "mark": {"type": "line", "color": "#0000ff", "strokeWidth": 1.2, "clip": true},
             "encoding": {"x": {"field": "year", "type": "quantitative"}, "y": {"field": "value", "type": "quantitative"}}},
            {"transform": [{"filter": "datum.method === 'PMF'"}],
             "mark": {"type": "point", "shape": "circle", "size": 106, "filled": true, "fill": "#fff", "stroke": "#0000ff", "strokeWidth": 1.2, "opacity": 1},
             "encoding": {"x": {"field": "year", "type": "quantitative"}, "y": {"field": "value", "type": "quantitative"}}},
            {"transform": [{"filter": "datum.method === 'Unmix'"}],
             "mark": {"type": "line", "color": "#ff0000", "strokeWidth": 1.2, "clip": true},
             "encoding": {"x": {"field": "year", "type": "quantitative"}, "y": {"field": "value", "type": "quantitative"}}},
            {"transform": [{"filter": "datum.method === 'Unmix'"}],
             "mark": {"type": "point", "shape": "triangle-up", "size": 160, "filled": true, "fill": "#fff", "stroke": "#ff0000", "strokeWidth": 1.2, "opacity": 1},
             "encoding": {"x": {"field": "year", "type": "quantitative"}, "y": {"field": "value", "type": "quantitative"}}},
            {"transform": [{"filter": "datum.year < 0"}],
             "mark": {"type": "point", "filled": false, "strokeWidth": 1.2, "size": 100, "opacity": 1},
             "encoding": {
               "x": {"field": "year", "type": "quantitative"}, "y": {"field": "value", "type": "quantitative"},
               "stroke": {"field": "method", "type": "nominal", "scale": {"domain": ["PCA-MLR", "PMF", "Unmix"], "range": ["#00f000", "#0000ff", "#ff0000"]}, "legend": {"title": null, "orient": "none", "direction": "vertical", "legendX": 32.7, "legendY": 9.8, "labelOffset": 17.3}},
               "shape": {"field": "method", "type": "nominal", "scale": {"domain": ["PCA-MLR", "PMF", "Unmix"], "range": ["M-3.5,0H-0.95M0.95,0H3.5M-0.95,-0.95H0.95V0.95H-0.95Z", "M-3.5,0H-1.03M1.03,0H3.5M-1.03,0A1.03,1.03,0,1,1,1.03,0A1.03,1.03,0,1,1,-1.03,0Z", "M-3.5,0H-0.65M0.65,0H3.5M0,-1.13L1.3,1.13H-1.3Z"]}, "legend": {"title": null, "orient": "none", "direction": "vertical", "legendX": 32.7, "legendY": 9.8, "labelOffset": 17.3}}
             }}
          ]
        }
      ]
    },
    {
      "width": 563, "height": 220,
      "data": {"name": "mixed_pct"},
      "title": {"text": "Mixed sources", "font": "Liberation Serif", "fontSize": 19, "fontWeight": "normal", "color": "#000", "anchor": "middle", "frame": "group", "baseline": "middle", "offset": -63, "dx": 35},
      "resolve": {"axis": {"x": "independent"}},
      "layer": [
        {"data": {"name": "events"},
         "transform": [{"filter": "datum.year === 1949 || datum.year === 1960 || datum.year === 1995"}],
         "mark": {"type": "rule", "color": "#444", "strokeDash": [6, 4], "strokeWidth": 1.1},
         "encoding": {"x": {"field": "year", "type": "quantitative", "axis": {"orient": "top", "values": [1949, 1960, 1978, 1995, 2005], "format": "d", "tickSize": 4, "labelPadding": 3, "labelFontSize": 15.5, "title": null}}}},
        {
          "layer": [
            {"data": {"name": "events"}, "transform": [{"filter": "datum.year === 1978"}],
             "mark": {"type": "rule", "color": "#444", "strokeDash": [6, 4], "strokeWidth": 1.1},
             "encoding": {"x": {"field": "year", "type": "quantitative"}, "y": {"datum": 79, "type": "quantitative"}, "y2": {"datum": 5}}},
            {"data": {"name": "events"}, "transform": [{"filter": "datum.year === 2005"}],
             "mark": {"type": "rule", "color": "#444", "strokeDash": [6, 4], "strokeWidth": 1.1},
             "encoding": {"x": {"field": "year", "type": "quantitative"}, "y": {"datum": 65, "type": "quantitative"}, "y2": {"datum": 5}}},
            {"transform": [{"filter": "datum.method === 'PCA'"}],
             "mark": {"type": "line", "color": "#00f000", "strokeWidth": 1.2, "clip": true},
             "encoding": {
               "x": {"field": "year", "type": "quantitative", "scale": {"domain": [1930, 2015.2], "nice": false, "zero": false}, "axis": {"orient": "bottom", "values": [1930,1935,1940,1945,1950,1955,1960,1965,1970,1975,1980,1985,1990,1995,2000,2005,2010,2015], "labels": false, "tickSize": 3, "title": null}},
               "y": {"field": "value", "type": "quantitative", "scale": {"domain": [5, 100], "nice": false, "zero": false}, "axis": {"orient": "right", "values": [25, 50, 75, 100], "format": "d", "tickSize": 6, "labelPadding": 4, "labelFontSize": 17, "title": null, "grid": true, "gridColor": "#000", "gridDash": [2, 2], "gridWidth": 1, "gridOpacity": {"condition": {"test": "datum.value === 50", "value": 1}, "value": 0}}}
             }},
            {"transform": [{"filter": "datum.method === 'PCA'"}],
             "mark": {"type": "point", "shape": "square", "size": 104, "filled": true, "color": "#00f000", "opacity": 1},
             "encoding": {"x": {"field": "year", "type": "quantitative"}, "y": {"field": "value", "type": "quantitative"}}},
            {"transform": [{"filter": "datum.method === 'PMF'"}],
             "mark": {"type": "line", "color": "#0000ff", "strokeWidth": 1.2, "clip": true},
             "encoding": {"x": {"field": "year", "type": "quantitative"}, "y": {"field": "value", "type": "quantitative"}}},
            {"transform": [{"filter": "datum.method === 'PMF'"}],
             "mark": {"type": "point", "shape": "circle", "size": 121, "filled": true, "color": "#0000ff", "opacity": 1},
             "encoding": {"x": {"field": "year", "type": "quantitative"}, "y": {"field": "value", "type": "quantitative"}}},
            {"transform": [{"filter": "datum.method === 'Unmix'"}],
             "mark": {"type": "line", "color": "#ff0000", "strokeWidth": 1.2, "clip": true},
             "encoding": {"x": {"field": "year", "type": "quantitative"}, "y": {"field": "value", "type": "quantitative"}}},
            {"transform": [{"filter": "datum.method === 'Unmix'"}],
             "mark": {"type": "point", "shape": "triangle-up", "size": 190, "filled": true, "color": "#ff0000", "opacity": 1},
             "encoding": {"x": {"field": "year", "type": "quantitative"}, "y": {"field": "value", "type": "quantitative"}}},
            {"transform": [{"filter": "datum.year < 0"}],
             "mark": {"type": "point", "filled": true, "strokeWidth": 1.2, "size": 100, "opacity": 1},
             "encoding": {
               "x": {"field": "year", "type": "quantitative"}, "y": {"field": "value", "type": "quantitative"},
               "fill": {"field": "method", "type": "nominal", "scale": {"domain": ["PCA", "PMF", "Unmix"], "range": ["#00f000", "#0000ff", "#ff0000"]}, "legend": {"title": null, "orient": "none", "direction": "vertical", "legendX": 459, "legendY": 12.2, "labelOffset": 17}},
               "stroke": {"field": "method", "type": "nominal", "scale": {"domain": ["PCA", "PMF", "Unmix"], "range": ["#00f000", "#0000ff", "#ff0000"]}, "legend": {"title": null, "orient": "none", "direction": "vertical", "legendX": 459, "legendY": 12.2, "labelOffset": 17}},
               "shape": {"field": "method", "type": "nominal", "scale": {"domain": ["PCA", "PMF", "Unmix"], "range": ["M-3.45,0H-1.02M1.02,0H3.45M-1.02,-1.02H1.02V1.02H-1.02Z", "M-3.45,0H-1.1M1.1,0H3.45M-1.1,0A1.1,1.1,0,1,1,1.1,0A1.1,1.1,0,1,1,-1.1,0Z", "M-3.45,0H-0.69M0.69,0H3.45M0,-1.2L1.38,1.2H-1.38Z"]}, "legend": {"title": null, "orient": "none", "direction": "vertical", "legendX": 459, "legendY": 12.2, "labelOffset": 17}}
             }}
          ]
        }
      ]
    },
    {
      "width": 563, "height": 220,
      "data": {"name": "petroleum_ng"},
      "title": {"text": "Petroleum combustion", "font": "Liberation Serif", "fontSize": 16, "fontWeight": "normal", "color": "#000", "anchor": "middle", "frame": "group", "baseline": "middle", "offset": -45, "dx": 35.5},
      "resolve": {"axis": {"x": "independent"}},
      "layer": [
        {"data": {"name": "events"},
         "transform": [{"filter": "datum.year !== 1978"}],
         "mark": {"type": "rule", "color": "#444", "strokeDash": [6, 4], "strokeWidth": 1.1},
         "encoding": {"x": {"field": "year", "type": "quantitative", "axis": null}}},
        {
          "layer": [
            {"data": {"name": "events"}, "transform": [{"filter": "datum.year === 1978"}],
             "mark": {"type": "rule", "color": "#444", "strokeDash": [6, 4], "strokeWidth": 1.1},
             "encoding": {"x": {"field": "year", "type": "quantitative"}, "y": {"datum": 211, "type": "quantitative"}, "y2": {"datum": 0}}},
            {"transform": [{"filter": "datum.method === 'PCA-MLR'"}],
             "mark": {"type": "line", "color": "#00f000", "strokeWidth": 1.2, "clip": true},
             "encoding": {
               "x": {"field": "year", "type": "quantitative", "scale": {"domain": [1930, 2015.2], "nice": false, "zero": false}, "axis": {"orient": "bottom", "values": [1930,1935,1940,1945,1950,1955,1960,1965,1970,1975,1980,1985,1990,1995,2000,2005,2010,2015], "labels": false, "tickSize": 3, "title": null}},
               "y": {"field": "value", "type": "quantitative", "scale": {"domain": [0, 250], "nice": false, "zero": false}, "axis": {"orient": "left", "values": [0, 50, 100, 150, 200, 250], "labelExpr": "datum.value % 100 === 0 ? datum.label : ''", "tickSize": {"condition": {"test": "datum.value % 100 === 0", "value": 6}, "value": 3}, "labelPadding": 5, "title": "Source contribution (ng g⁻¹)", "titlePadding": 12}}
             }},
            {"transform": [{"filter": "datum.method === 'PCA-MLR'"}],
             "mark": {"type": "point", "shape": "square", "size": 90, "filled": true, "fill": "#fff", "stroke": "#00f000", "strokeWidth": 1.2, "opacity": 1},
             "encoding": {"x": {"field": "year", "type": "quantitative"}, "y": {"field": "value", "type": "quantitative"}}},
            {"transform": [{"filter": "datum.method === 'PMF'"}],
             "mark": {"type": "line", "color": "#0000ff", "strokeWidth": 1.2, "clip": true},
             "encoding": {"x": {"field": "year", "type": "quantitative"}, "y": {"field": "value", "type": "quantitative"}}},
            {"transform": [{"filter": "datum.method === 'PMF'"}],
             "mark": {"type": "point", "shape": "circle", "size": 106, "filled": true, "fill": "#fff", "stroke": "#0000ff", "strokeWidth": 1.2, "opacity": 1},
             "encoding": {"x": {"field": "year", "type": "quantitative"}, "y": {"field": "value", "type": "quantitative"}}},
            {"transform": [{"filter": "datum.method === 'Unmix'"}],
             "mark": {"type": "line", "color": "#ff0000", "strokeWidth": 1.2, "clip": true},
             "encoding": {"x": {"field": "year", "type": "quantitative"}, "y": {"field": "value", "type": "quantitative"}}},
            {"transform": [{"filter": "datum.method === 'Unmix'"}],
             "mark": {"type": "point", "shape": "triangle-up", "size": 160, "filled": true, "fill": "#fff", "stroke": "#ff0000", "strokeWidth": 1.2, "opacity": 1},
             "encoding": {"x": {"field": "year", "type": "quantitative"}, "y": {"field": "value", "type": "quantitative"}}}
          ]
        }
      ]
    },
    {
      "width": 563, "height": 220,
      "data": {"name": "petroleum_pct"},
      "title": {"text": "Petroleum combustion", "font": "Liberation Serif", "fontSize": 16, "fontWeight": "normal", "color": "#000", "anchor": "middle", "frame": "group", "baseline": "middle", "offset": -45, "dx": 39.5},
      "resolve": {"axis": {"x": "independent"}},
      "layer": [
        {"data": {"name": "events"},
         "transform": [{"filter": "datum.year !== 1978"}],
         "mark": {"type": "rule", "color": "#444", "strokeDash": [6, 4], "strokeWidth": 1.1},
         "encoding": {"x": {"field": "year", "type": "quantitative", "axis": null}}},
        {
          "layer": [
            {"data": {"name": "events"}, "transform": [{"filter": "datum.year === 1978"}],
             "mark": {"type": "rule", "color": "#444", "strokeDash": [6, 4], "strokeWidth": 1.1},
             "encoding": {"x": {"field": "year", "type": "quantitative"}, "y": {"datum": 84.6, "type": "quantitative"}, "y2": {"datum": 5}}},
            {"transform": [{"filter": "datum.method === 'PCA'"}],
             "mark": {"type": "line", "color": "#00f000", "strokeWidth": 1.2, "clip": true},
             "encoding": {
               "x": {"field": "year", "type": "quantitative", "scale": {"domain": [1930, 2015.2], "nice": false, "zero": false}, "axis": {"orient": "bottom", "values": [1930,1935,1940,1945,1950,1955,1960,1965,1970,1975,1980,1985,1990,1995,2000,2005,2010,2015], "labels": false, "tickSize": 3, "title": null}},
               "y": {"field": "value", "type": "quantitative", "scale": {"domain": [5, 100], "nice": false, "zero": false}, "axis": {"orient": "right", "values": [25, 50, 75, 100], "format": "d", "tickSize": 6, "labelPadding": 4, "labelFontSize": 17, "title": "Source contribution (%)", "titleAngle": 270, "titlePadding": 22, "grid": true, "gridColor": "#000", "gridDash": [2, 2], "gridWidth": 1, "gridOpacity": {"condition": {"test": "datum.value === 50", "value": 1}, "value": 0}}}
             }},
            {"transform": [{"filter": "datum.method === 'PCA'"}],
             "mark": {"type": "point", "shape": "square", "size": 104, "filled": true, "color": "#00f000", "opacity": 1},
             "encoding": {"x": {"field": "year", "type": "quantitative"}, "y": {"field": "value", "type": "quantitative"}}},
            {"transform": [{"filter": "datum.method === 'PMF'"}],
             "mark": {"type": "line", "color": "#0000ff", "strokeWidth": 1.2, "clip": true},
             "encoding": {"x": {"field": "year", "type": "quantitative"}, "y": {"field": "value", "type": "quantitative"}}},
            {"transform": [{"filter": "datum.method === 'PMF'"}],
             "mark": {"type": "point", "shape": "circle", "size": 121, "filled": true, "color": "#0000ff", "opacity": 1},
             "encoding": {"x": {"field": "year", "type": "quantitative"}, "y": {"field": "value", "type": "quantitative"}}},
            {"transform": [{"filter": "datum.method === 'Unmix'"}],
             "mark": {"type": "line", "color": "#ff0000", "strokeWidth": 1.2, "clip": true},
             "encoding": {"x": {"field": "year", "type": "quantitative"}, "y": {"field": "value", "type": "quantitative"}}},
            {"transform": [{"filter": "datum.method === 'Unmix'"}],
             "mark": {"type": "point", "shape": "triangle-up", "size": 190, "filled": true, "color": "#ff0000", "opacity": 1},
             "encoding": {"x": {"field": "year", "type": "quantitative"}, "y": {"field": "value", "type": "quantitative"}}}
          ]
        }
      ]
    },
    {
      "width": 563, "height": 220,
      "data": {"name": "oil_ng"},
      "title": {"text": "Oilleakage", "font": "Liberation Serif", "fontSize": 19, "fontWeight": "normal", "color": "#000", "anchor": "middle", "frame": "group", "baseline": "middle", "offset": -42.6, "dx": 30},
      "resolve": {"axis": {"x": "independent"}},
      "layer": [
        {"data": {"name": "events"},
         "transform": [{"filter": "datum.year !== 1978"}],
         "mark": {"type": "rule", "color": "#444", "strokeDash": [6, 4], "strokeWidth": 1.1},
         "encoding": {"x": {"field": "year", "type": "quantitative", "axis": null}}},
        {
          "layer": [
            {"data": {"name": "events"}, "transform": [{"filter": "datum.year === 1978"}],
             "mark": {"type": "rule", "color": "#444", "strokeDash": [6, 4], "strokeWidth": 1.1},
             "encoding": {"x": {"field": "year", "type": "quantitative"}, "y": {"datum": 285, "type": "quantitative"}, "y2": {"datum": 0}}},
            {"transform": [{"filter": "datum.method === 'PCA-MLR'"}],
             "mark": {"type": "line", "color": "#00f000", "strokeWidth": 1.2, "clip": true},
             "encoding": {
               "x": {"field": "year", "type": "quantitative", "scale": {"domain": [1930, 2015.2], "nice": false, "zero": false}, "axis": {"orient": "bottom", "values": [1930,1935,1940,1945,1950,1955,1960,1965,1970,1975,1980,1985,1990,1995,2000,2005,2010,2015], "format": "d", "labelExpr": "datum.value % 10 === 0 ? datum.label : ''", "tickSize": {"condition": {"test": "datum.value % 10 === 0", "value": 6}, "value": 3}, "labelPadding": 3, "title": null}},
               "y": {"field": "value", "type": "quantitative", "scale": {"domain": [0, 350], "nice": false, "zero": false}, "axis": {"orient": "left", "values": [0, 50, 100, 150, 200, 250, 300], "labelExpr": "datum.value % 100 === 0 ? datum.label : ''", "tickSize": {"condition": {"test": "datum.value % 100 === 0", "value": 6}, "value": 3}, "labelPadding": 5, "title": null}}
             }},
            {"transform": [{"filter": "datum.method === 'PCA-MLR'"}],
             "mark": {"type": "point", "shape": "square", "size": 90, "filled": true, "fill": "#fff", "stroke": "#00f000", "strokeWidth": 1.2, "opacity": 1},
             "encoding": {"x": {"field": "year", "type": "quantitative"}, "y": {"field": "value", "type": "quantitative"}}},
            {"transform": [{"filter": "datum.method === 'PMF'"}],
             "mark": {"type": "line", "color": "#0000ff", "strokeWidth": 1.2, "clip": true},
             "encoding": {"x": {"field": "year", "type": "quantitative"}, "y": {"field": "value", "type": "quantitative"}}},
            {"transform": [{"filter": "datum.method === 'PMF'"}],
             "mark": {"type": "point", "shape": "circle", "size": 106, "filled": true, "fill": "#fff", "stroke": "#0000ff", "strokeWidth": 1.2, "opacity": 1},
             "encoding": {"x": {"field": "year", "type": "quantitative"}, "y": {"field": "value", "type": "quantitative"}}},
            {"transform": [{"filter": "datum.method === 'Unmix'"}],
             "mark": {"type": "line", "color": "#ff0000", "strokeWidth": 1.2, "clip": true},
             "encoding": {"x": {"field": "year", "type": "quantitative"}, "y": {"field": "value", "type": "quantitative"}}},
            {"transform": [{"filter": "datum.method === 'Unmix' && datum.value >= 0"}],
             "mark": {"type": "point", "shape": "triangle-up", "size": 160, "filled": true, "fill": "#fff", "stroke": "#ff0000", "strokeWidth": 1.2, "opacity": 1},
             "encoding": {"x": {"field": "year", "type": "quantitative"}, "y": {"field": "value", "type": "quantitative"}}}
          ]
        }
      ]
    },
    {
      "width": 563, "height": 220,
      "data": {"name": "oil_pct"},
      "title": {"text": "Oilleakage", "font": "Liberation Serif", "fontSize": 19, "fontWeight": "normal", "color": "#000", "anchor": "middle", "frame": "group", "baseline": "middle", "offset": -53, "dx": 39.5},
      "resolve": {"axis": {"x": "independent"}},
      "layer": [
        {"data": {"name": "events"},
         "transform": [{"filter": "datum.year !== 1978"}],
         "mark": {"type": "rule", "color": "#444", "strokeDash": [6, 4], "strokeWidth": 1.1},
         "encoding": {"x": {"field": "year", "type": "quantitative", "axis": null}}},
        {
          "layer": [
            {"data": {"name": "events"}, "transform": [{"filter": "datum.year === 1978"}],
             "mark": {"type": "rule", "color": "#444", "strokeDash": [6, 4], "strokeWidth": 1.1},
             "encoding": {"x": {"field": "year", "type": "quantitative"}, "y": {"datum": 74, "type": "quantitative"}, "y2": {"datum": 0}}},
            {"transform": [{"filter": "datum.method === 'PCA'"}],
             "mark": {"type": "line", "color": "#00f000", "strokeWidth": 1.2, "clip": true},
             "encoding": {
               "x": {"field": "year", "type": "quantitative", "scale": {"domain": [1930, 2015.2], "nice": false, "zero": false}, "axis": {"orient": "bottom", "values": [1930,1935,1940,1945,1950,1955,1960,1965,1970,1975,1980,1985,1990,1995,2000,2005,2010,2015], "format": "d", "labelExpr": "datum.value % 10 === 0 ? datum.label : ''", "tickSize": {"condition": {"test": "datum.value % 10 === 0", "value": 6}, "value": 3}, "labelPadding": 3, "title": null}},
               "y": {"field": "value", "type": "quantitative", "scale": {"domain": [0, 100], "nice": false, "zero": false}, "axis": {"orient": "right", "values": [0, 12.5, 25, 37.5, 50, 62.5, 75, 87.5, 100], "labelExpr": "datum.value % 25 === 0 ? datum.label : ''", "tickSize": {"condition": {"test": "datum.value % 25 === 0", "value": 6}, "value": 3}, "labelPadding": 4, "labelFontSize": 17, "title": null}}
             }},
            {"transform": [{"filter": "datum.method === 'PCA'"}],
             "mark": {"type": "point", "shape": "square", "size": 104, "filled": true, "color": "#00f000", "opacity": 1},
             "encoding": {"x": {"field": "year", "type": "quantitative"}, "y": {"field": "value", "type": "quantitative"}}},
            {"transform": [{"filter": "datum.method === 'PMF'"}],
             "mark": {"type": "line", "color": "#0000ff", "strokeWidth": 1.2, "clip": true},
             "encoding": {"x": {"field": "year", "type": "quantitative"}, "y": {"field": "value", "type": "quantitative"}}},
            {"transform": [{"filter": "datum.method === 'PMF'"}],
             "mark": {"type": "point", "shape": "circle", "size": 121, "filled": true, "color": "#0000ff", "opacity": 1},
             "encoding": {"x": {"field": "year", "type": "quantitative"}, "y": {"field": "value", "type": "quantitative"}}},
            {"transform": [{"filter": "datum.method === 'Unmix'"}],
             "mark": {"type": "line", "color": "#ff0000", "strokeWidth": 1.2, "clip": true},
             "encoding": {"x": {"field": "year", "type": "quantitative"}, "y": {"field": "value", "type": "quantitative"}}},
            {"transform": [{"filter": "datum.method === 'Unmix' && datum.value >= 0"}],
             "mark": {"type": "point", "shape": "triangle-up", "size": 190, "filled": true, "color": "#ff0000", "opacity": 1},
             "encoding": {"x": {"field": "year", "type": "quantitative"}, "y": {"field": "value", "type": "quantitative"}}}
          ]
        }
      ]
    }
  ]
}
